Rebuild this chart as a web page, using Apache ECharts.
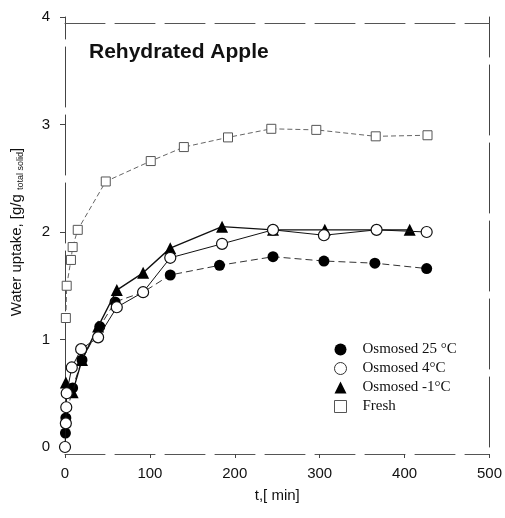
<!DOCTYPE html>
<html>
<head>
<meta charset="utf-8">
<script src="https://cdn.jsdelivr.net/npm/echarts@6/dist/echarts.min.js"></script>
<style>
  html, body { margin: 0; padding: 0; background: #fff; }
  #chart { width: 505px; height: 518px; }
</style>
</head>
<body>
<div id="chart"></div>
<script>
// values (t in min, uptake in g/g total solid)
var osm25 = [[0.5, 0.13], [1, 0.27], [9, 0.55], [20, 0.81], [41, 1.12], [59, 1.35], [92, 1.44],
  [124, 1.6], [182, 1.69], [245, 1.77], [305, 1.73], [365, 1.71], [426, 1.66]]
var osm4 = [[0, 0], [1, 0.22], [1.5, 0.37], [2, 0.5], [8, 0.74], [19, 0.91], [39, 1.02], [61, 1.3],
  [92, 1.44], [124, 1.76], [185, 1.89], [245, 2.02], [305, 1.97], [367, 2.02], [426, 2.0]]
var osmM1 = [[1, 0.6], [9, 0.51], [20, 0.81], [39, 1.12], [61, 1.46], [92, 1.62], [124, 1.85],
  [185, 2.05], [245, 2.02], [306, 2.02], [406, 2.02]]
var fresh = [[1, 1.2], [2, 1.5], [7, 1.74], [9, 1.86], [15, 2.02], [48, 2.47], [101, 2.66],
  [140, 2.79], [192, 2.88], [243, 2.96], [296, 2.95], [366, 2.89], [427, 2.9]]
var seriesNames = ['Osmosed 25 °C', 'Osmosed 4°C', 'Osmosed -1°C', 'Fresh']

var chart = echarts.init(document.getElementById('chart'))
var sans = 'Liberation Sans'
var frameLine = { show: true, onZero: false, lineStyle: { color: '#555', width: 1, type: [40, 10] } }

chart.setOption({
  animation: false,
  backgroundColor: '#fff',
  title: {
    text: 'Rehydrated Apple',
    left: 84,
    top: 37,
    textStyle: { fontFamily: sans, fontSize: 21, fontWeight: 'bold', color: '#111' }
  },
  legend: {
    orient: 'vertical',
    left: 329,
    top: 337,
    itemWidth: 12,
    itemHeight: 12,
    itemGap: 4,
    textStyle: { fontFamily: 'Liberation Serif', fontSize: 15, color: '#111', padding: [0, 0, 0, 11] },
    data: [
      { name: seriesNames[0], icon: 'circle', itemStyle: { color: '#000', borderWidth: 0 } },
      { name: seriesNames[1], icon: 'circle', itemStyle: { color: '#fff', borderColor: '#333', borderWidth: 1 } },
      { name: seriesNames[2], icon: 'triangle', itemStyle: { color: '#000', borderWidth: 0 } },
      { name: seriesNames[3], icon: 'rect', itemStyle: { color: '#fff', borderColor: '#555', borderWidth: 1 } }
    ]
  },
  grid: { left: 65, right: 14, top: 17, bottom: 71 },
  xAxis: [
    {
      type: 'value',
      min: 0,
      max: 500,
      interval: 100,
      offset: 7,
      axisLine: frameLine,
      axisTick: { show: true, length: 4, lineStyle: { color: '#444' } },
      axisLabel: { fontFamily: sans, fontSize: 15, color: '#111', margin: 12 },
      splitLine: { show: false },
      name: 't,[ min]',
      nameLocation: 'middle',
      nameGap: 34,
      nameTextStyle: { fontFamily: sans, fontSize: 15, color: '#111' }
    },
    {
      type: 'value',
      position: 'top',
      min: 0,
      max: 500,
      offset: -6,
      axisLine: frameLine,
      axisTick: { show: false },
      axisLabel: { show: false },
      splitLine: { show: false }
    }
  ],
  yAxis: [
    {
      type: 'value',
      min: 0,
      max: 4,
      interval: 1,
      axisLine: { show: true, onZero: false, lineStyle: { color: '#444', width: 1, type: [60, 8] } },
      axisTick: { show: true, length: 5, lineStyle: { color: '#444' } },
      axisLabel: { fontFamily: sans, fontSize: 15, color: '#111', margin: 15 },
      splitLine: { show: false },
      name: 'Water uptake, [g/g {s|total solid}]',
      nameLocation: 'middle',
      nameGap: 40,
      nameTextStyle: {
        fontFamily: sans, fontSize: 15, color: '#111',
        rich: { s: { fontFamily: sans, fontSize: 9, color: '#111', padding: [7, 0, 0, 0] } }
      }
    },
    {
      type: 'value',
      position: 'right',
      min: 0,
      max: 4,
      axisLine: { show: true, onZero: false, lineStyle: { color: '#444', width: 1, type: [70, 8] } },
      axisTick: { show: false },
      axisLabel: { show: false },
      splitLine: { show: false }
    }
  ],
  series: [
    {
      name: seriesNames[3],
      type: 'line',
      data: fresh,
      symbol: 'rect',
      symbolSize: 9,
      itemStyle: { color: '#fff', borderColor: '#555', borderWidth: 1 },
      lineStyle: { color: '#666', width: 1, type: [5, 3] },
      z: 2
    },
    {
      name: seriesNames[0],
      type: 'line',
      data: osm25,
      symbol: 'circle',
      symbolSize: 11,
      itemStyle: { color: '#000' },
      lineStyle: { color: '#333', width: 1, type: [7, 4] },
      z: 3
    },
    {
      name: seriesNames[2],
      type: 'line',
      data: osmM1,
      symbol: 'triangle',
      symbolSize: 12,
      itemStyle: { color: '#000' },
      lineStyle: { color: '#111', width: 1.4 },
      z: 4
    },
    {
      name: seriesNames[1],
      type: 'line',
      data: osm4,
      symbol: 'circle',
      symbolSize: 11,
      itemStyle: { color: '#fff', borderColor: '#111', borderWidth: 1.2 },
      lineStyle: { color: '#111', width: 1 },
      z: 5
    }
  ]
})
</script>
</body>
</html>
